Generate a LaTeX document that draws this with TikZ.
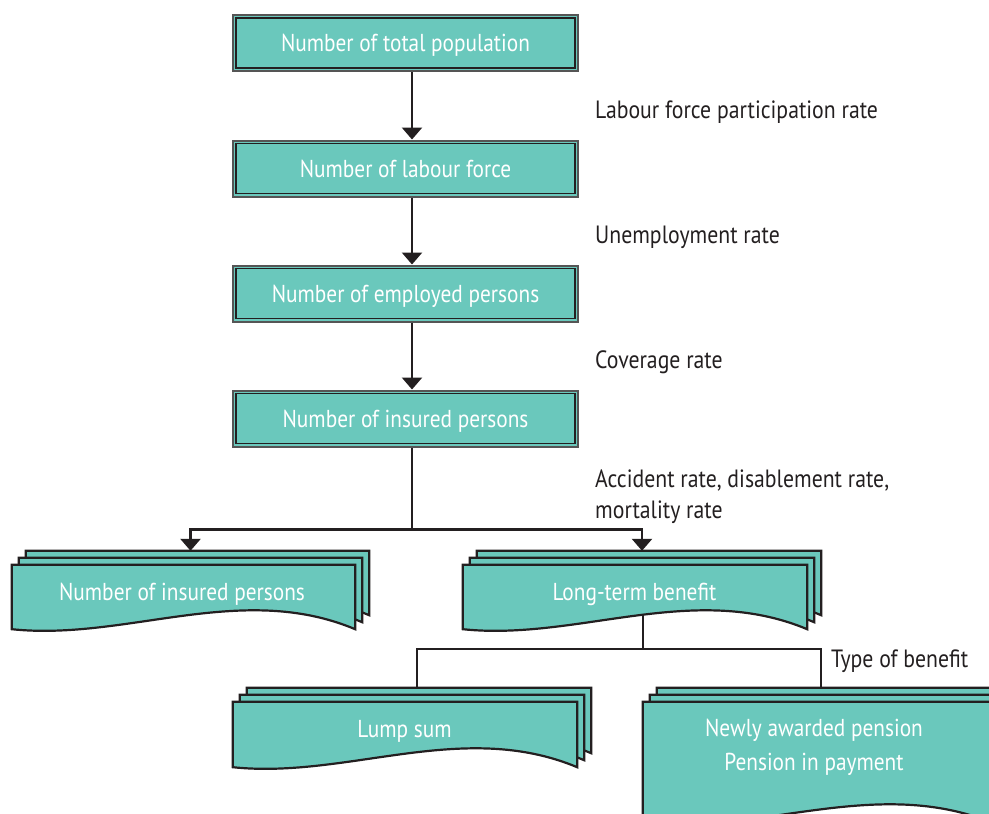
\documentclass[tikz,border=0pt]{standalone}
\usepackage{fontspec}
\setmainfont{PT Sans}[FakeStretch=0.87]
\usetikzlibrary{arrows.meta,calc}
\definecolor{tealfill}{HTML}{6AC8BC}
\definecolor{inkc}{HTML}{231F20}
\definecolor{rimc}{HTML}{555555}
\pgfdeclarelayer{background}
\pgfsetlayers{background,main}
\newcommand\docstack[1]{%
  \begin{pgfonlayer}{background}
  \foreach \s in {14,7,0}{%
    \draw[docline]
      ([shift={(\s pt,\s pt)}]#1.south west) --
      ([shift={(\s pt,\s pt)}]#1.north west) --
      ([shift={(\s pt,\s pt)}]#1.north east) --
      ([shift={(\s pt,\s pt)}]#1.south east)
      .. controls ($(#1.south east)!0.3333!(#1.south west)+(\s pt,\s pt+48pt)$)
      and ($(#1.south east)!0.6667!(#1.south west)+(\s pt,\s pt-12pt)$) ..
      ([shift={(\s pt,\s pt)}]#1.south west) -- cycle;
  }
  \end{pgfonlayer}}
\begin{document}
\begin{tikzpicture}[x=1pt,y=-1pt,
  flowbox/.style={rectangle, fill=tealfill, draw=rimc, line width=2pt,
    minimum width=345pt, minimum height=56pt, inner sep=0pt,
    text=white, font=\fontsize{24.5}{28}\selectfont, text height=17pt, text depth=0pt,
    path picture={\draw[inkc, line width=1.1pt]
      ([shift={(3pt,-3pt)}]path picture bounding box.north west) rectangle
      ([shift={(-3pt,3pt)}]path picture bounding box.south east);}},
  docbox/.style={rectangle, inner sep=0pt, minimum width=#1},
  docline/.style={draw=inkc, line width=2.2pt, fill=tealfill, line join=miter},
  doctext/.style={text=white, font=\fontsize{24.5}{28}\selectfont, inner sep=0pt, anchor=base},
  lbl/.style={text=inkc, font=\fontsize{25}{29}\selectfont, inner sep=0pt, anchor=base west},
  conn/.style={draw=inkc, line width=2.6pt},
  arr/.style={conn, -{Triangle[width=20pt,length=12pt]}}
]
\useasboundingbox (0,0) rectangle (989,814);

% rectangular boxes
\node[flowbox] (b1) at (405.5,43) {Number of total population};
\node[flowbox] (b2) at (405.5,168.5) {Number of labour force};
\node[flowbox] (b3) at (405.5,293.5) {Number of employed persons};
\node[flowbox] (b4) at (405.5,418.5) {Number of insured persons};

% document stacks
\node[docbox=343pt, minimum height=64pt] (d1) at (183.5,597) {};
\node[docbox=344pt, minimum height=64pt] (d2) at (635,597) {};
\node[docbox=344pt, minimum height=65pt] (d3) at (405,734.5) {};
\node[docbox=350pt, minimum height=121pt] (d4) at (818,762.5) {};
\docstack{d1}
\docstack{d2}
\docstack{d3}
\docstack{d4}

\node[doctext] (t1) at (182,600) {Number of insured persons};
\node[doctext] (t2) at (634.5,600) {Long-term benefit};
\node[doctext] (t3) at (404.5,737) {Lump sum};
\node[doctext] (t4a) at (814,736) {Newly awarded pension};
\node[doctext] (t4b) at (814,770) {Pension in payment};

% labels
\node[lbl] (l1) at (595,118) {Labour force participation rate};
\node[lbl] (l2) at (595,243) {Unemployment rate};
\node[lbl] (l3) at (595,368) {Coverage rate};
\node[lbl] (l4a) at (595,487) {Accident rate, disablement rate,};
\node[lbl] (l4b) at (595,518) {mortality rate};
\node[lbl] (l5) at (831,667) {Type of benefit};

% connectors
\draw[arr] ([xshift=6.5pt]b1.south) -- ([xshift=6.5pt]b2.north);
\draw[arr] ([xshift=6.5pt]b2.south) -- ([xshift=6.5pt]b3.north);
\draw[arr] ([xshift=6.5pt]b3.south) -- ([xshift=6.5pt]b4.north);
\draw[conn] ([xshift=6.5pt]b4.south) -- ++(0,82) coordinate (split);
\draw[arr] (split) -| ([shift={(7pt,14pt)}]d1.north);
\draw[arr] (split) -| ([shift={(7pt,14pt)}]d2.north);

\coordinate (ltbout) at (643,615);
\draw[conn] (ltbout) -- (643,649) coordinate (tsplit);
\draw[conn] (tsplit) -| ([shift={(12pt,14pt)}]d3.north);
\draw[conn] (tsplit) -| ([shift={(3pt,14pt)}]d4.north);
\end{tikzpicture}
\end{document}
